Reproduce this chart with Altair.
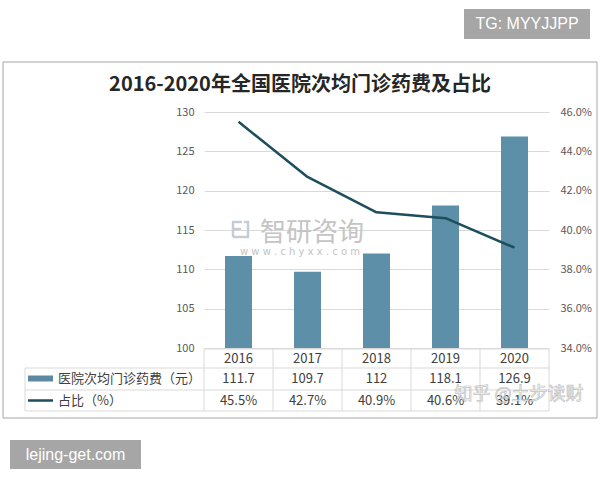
import altair as alt
import pandas as pd

# ---- data ----
years = ["2016", "2017", "2018", "2019", "2020"]
fees = [111.7, 109.7, 112.0, 118.1, 126.9]
fee_labels = ["111.7", "109.7", "112", "118.1", "126.9"]
shares = [45.5, 42.7, 40.9, 40.6, 39.1]
share_labels = ["45.5%", "42.7%", "40.9%", "40.6%", "39.1%"]
left_ticks = [100, 105, 110, 115, 120, 125, 130]
right_ticks = [0.34, 0.36, 0.38, 0.40, 0.42, 0.44, 0.46]

title_text = "2016-2020年全国医院次均门诊药费及占比"
fee_name = "医院次均门诊药费（元）"
share_name = "占比（%）"

df = pd.DataFrame({
    "year": years,
    "fee": fees,
    "fee_label": fee_labels,
    "share": [s / 100 for s in shares],
    "share_label": share_labels,
})

# ---- layout ----
W, H = 345, 236
OX, OY = 204, 112


def px(x):
    return x - OX


def py(y):
    return y - OY


FONT = "Noto Sans CJK SC"
BAR = "#5e8fa9"
LINE = "#1c4e5b"
GRID = "#d9d9d9"
TXT = "#404040"
one = pd.DataFrame({"k": [0]})

xenc = alt.X("year:N", axis=None, sort=years,
             scale=alt.Scale(paddingInner=0, paddingOuter=0))


def rule(x1, x2, y1, y2, color=GRID, width=1):
    return alt.Chart(one).mark_rule(color=color, strokeWidth=width).encode(
        x=alt.value(x1), x2=alt.value(x2), y=alt.value(y1), y2=alt.value(y2))


def box(x1, x2, y1, y2, **kw):
    return alt.Chart(one).mark_rect(**kw).encode(
        x=alt.value(x1), x2=alt.value(x2), y=alt.value(y1), y2=alt.value(y2))


def label(x, y, text, **kw):
    return alt.Chart(one).mark_text(text=text, **kw).encode(
        x=alt.value(x), y=alt.value(y))


frame = box(px(3), px(597), py(62), py(418), fill="white", fillOpacity=0,
            stroke="#a6a6a6", strokeWidth=1)

title = label(px(300), py(85), title_text, font=FONT, fontSize=20, fontWeight="bold",
              color="#262626", align="center", baseline="middle")

wm1 = label(px(312), py(233), "智研咨询", font=FONT, fontSize=26, color="#c4c4c4",
            align="center", baseline="middle")
wm2 = label(px(300), py(252), "w w w . c h y x x . c o m", font="DejaVu Sans", fontSize=10,
            color="#c4c4c4", align="center", baseline="middle")
IC = "#c5ccd4"
wm_icon = [
    rule(px(232), px(242), py(222), py(222), color=IC, width=2.5),
    rule(px(233), px(233), py(222), py(237), color=IC, width=2.5),
    rule(px(233), px(241), py(229), py(229), color=IC, width=2.5),
    rule(px(244), px(249), py(222), py(222), color=IC, width=2.5),
    rule(px(248), px(248), py(222), py(237), color=IC, width=2.5),
    rule(px(233), px(249), py(237), py(237), color=IC, width=2.5),
]

bars = alt.Chart(df).mark_bar(size=27, color=BAR).encode(
    x=xenc,
    y=alt.Y("fee:Q",
            scale=alt.Scale(domain=[100, 130], zero=False, nice=False),
            axis=alt.Axis(values=left_ticks, grid=True, gridColor=GRID, domain=False,
                          ticks=False, labelPadding=10, labelColor="#595959",
                          labelFontSize=11, labelFont=FONT, title=None)),
    y2=alt.datum(100),
)

line = alt.Chart(df).mark_line(color=LINE, strokeWidth=2.5, strokeJoin="round").encode(
    x=xenc,
    y=alt.Y("share:Q",
            scale=alt.Scale(domain=[0.34, 0.46], zero=False, nice=False),
            axis=alt.Axis(orient="right", values=right_ticks, format=".1%", grid=False,
                          domain=False, ticks=False, labelPadding=11, labelColor="#595959",
                          labelFontSize=11, labelFont=FONT, title=None)),
)

# table lines
tlines = [
    rule(0, W, py(349), py(349)),
    rule(px(25), W, py(368), py(368)),
    rule(px(25), W, py(390), py(390)),
    rule(px(25), W, py(411), py(411)),
    rule(px(25), px(25), py(368), py(411)),
]
for i in range(6):
    xx = i * W / 5
    tlines.append(rule(xx, xx, py(349), py(411)))

year_txt = alt.Chart(df).mark_text(font=FONT, fontSize=13, color=TXT, baseline="middle").encode(
    x=xenc, y=alt.value(py(358.5)), text="year:N")
fee_txt = alt.Chart(df).mark_text(font=FONT, fontSize=13, color=TXT, baseline="middle").encode(
    x=xenc, y=alt.value(py(379)), text="fee_label:N")
share_txt = alt.Chart(df).mark_text(font=FONT, fontSize=13, color=TXT, baseline="middle").encode(
    x=xenc, y=alt.value(py(400.5)), text="share_label:N")

sw_bar = box(px(28), px(53), py(375.5), py(381.5), fill="#5b8aa0")
sw_line = rule(px(28), px(53), py(400.5), py(400.5), color=LINE, width=2.5)
lab1 = label(px(58), py(379), fee_name, font=FONT, fontSize=13, color=TXT,
             align="left", baseline="middle")
lab2 = label(px(58), py(400.5), share_name, font=FONT, fontSize=13, color=TXT,
             align="left", baseline="middle")

wm3 = label(px(519), py(395), "知乎 @土步读财", font=FONT, fontSize=18, fill="#f4f4f4",
            stroke="#b4b4b4", strokeWidth=0.7, opacity=0.8, align="center", baseline="middle")

tg_box = box(px(464), px(590), py(9), py(39), fill="#a6a6a6")
tg_txt = label(px(527), py(24), "TG: MYYJJPP", font="Liberation Sans", fontSize=16,
               color="white", align="center", baseline="middle")
lj_box = box(px(10), px(141), py(440), py(469), fill="#a6a6a6")
lj_txt = label(px(75.5), py(455), "lejing-get.com", font="Liberation Sans", fontSize=16,
               color="white", align="center", baseline="middle")

chart = alt.layer(
    frame, title, *wm_icon, wm1, wm2, bars, line, *tlines,
    year_txt, fee_txt, share_txt, sw_bar, sw_line, lab1, lab2, wm3,
    tg_box, tg_txt, lj_box, lj_txt,
).resolve_scale(y="independent").properties(
    width=W, height=H,
    autosize=alt.AutoSizeParams(type="none"),
    padding={"left": OX, "top": OY, "right": 600 - OX - W, "bottom": 480 - OY - H},
    background="white",
).configure_view(strokeWidth=0)

chart.save("out.html", embed_options={"renderer": "svg", "actions": False})
